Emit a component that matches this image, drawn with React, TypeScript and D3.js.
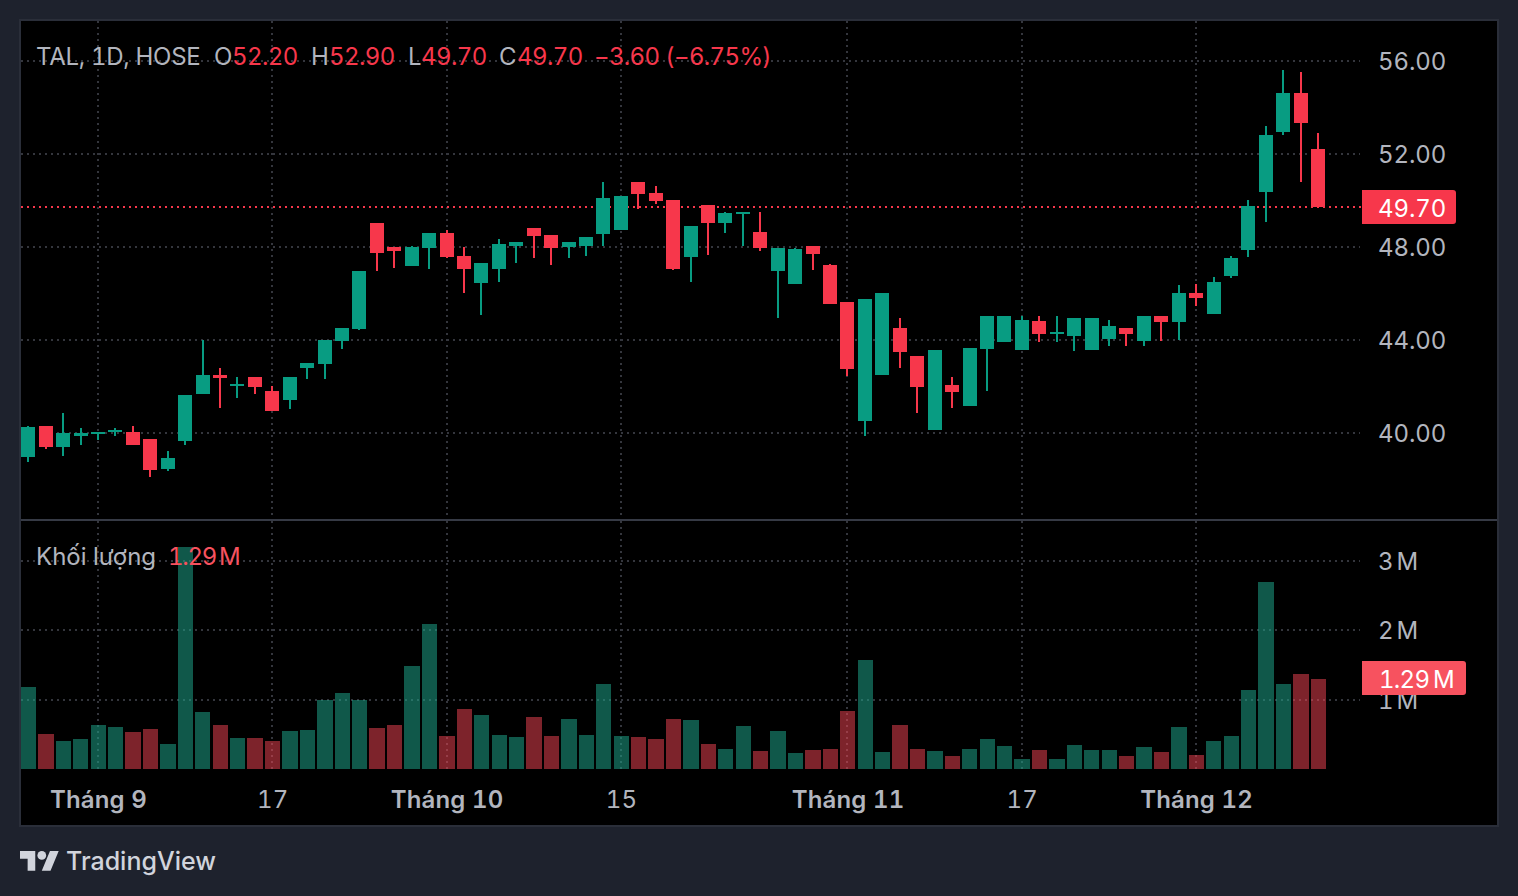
import React, { useEffect, useRef } from 'react';
import * as d3 from 'd3';

// OHLC + volume (millions)
const opens = [
  38.95, 40.3, 39.4, 39.85, 39.95, 40.05, 40.05, 39.75, 38.45, 39.65,
  41.65, 42.5, 42.0, 42.4, 41.8, 41.4, 42.8, 42.95, 43.95, 44.45,
  49.0, 48.0, 47.15, 47.95, 48.6, 47.6, 46.45, 47.05, 48.05, 48.8,
  48.5, 48.0, 48.05, 48.55, 48.7, 50.8, 50.3, 50.0, 47.55, 49.8,
  49.0, 49.4, 48.65, 46.95, 46.4, 48.05, 47.2, 45.6, 40.5, 42.5,
  44.5, 43.3, 40.1, 42.05, 41.15, 43.6, 43.9, 43.55, 44.8, 44.25,
  44.15, 43.55, 44.05, 44.5, 43.95, 45.0, 44.75, 46.0, 45.1, 46.75,
  47.85, 50.35, 52.95, 54.6, 52.2
];
const highs = [
  40.3, 40.3, 40.85, 40.2, 40.05, 40.2, 40.3, 39.75, 39.2, 41.6,
  44.0, 42.8, 42.4, 42.4, 42.0, 42.4, 43.0, 44.0, 44.5, 46.95,
  49.0, 48.0, 48.05, 48.6, 48.7, 48.0, 47.3, 48.35, 48.2, 48.8,
  48.5, 48.2, 48.4, 50.8, 50.2, 50.8, 50.6, 50.0, 48.9, 49.8,
  49.5, 49.5, 49.5, 47.95, 47.95, 48.05, 47.25, 45.6, 45.75, 46.0,
  44.95, 43.3, 43.55, 42.4, 43.65, 45.0, 45.0, 45.0, 45.0, 45.0,
  44.95, 44.95, 44.85, 44.5, 45.0, 45.0, 46.35, 46.4, 46.7, 47.6,
  50.0, 53.2, 55.6, 55.5, 52.9
];
const lows = [
  38.75, 39.3, 39.0, 39.45, 39.7, 39.85, 39.45, 38.1, 38.35, 39.45,
  41.65, 41.05, 41.5, 41.65, 40.95, 41.0, 42.3, 42.3, 43.6, 44.4,
  46.95, 47.1, 47.15, 47.05, 47.5, 46.0, 45.05, 46.5, 47.3, 47.5,
  47.2, 47.5, 47.6, 48.05, 48.7, 49.6, 49.85, 47.0, 46.5, 47.65,
  48.6, 48.05, 47.8, 44.95, 46.4, 47.0, 45.55, 42.45, 39.85, 42.5,
  42.8, 40.85, 40.1, 41.05, 41.15, 41.8, 43.9, 43.55, 43.9, 43.9,
  43.5, 43.55, 43.75, 43.75, 43.75, 43.95, 44.0, 45.45, 45.1, 46.65,
  47.55, 49.05, 52.8, 50.8, 49.7
];
const closes = [
  40.25, 39.4, 40.0, 40.0, 40.05, 40.1, 39.45, 38.4, 38.9, 41.6,
  42.5, 42.35, 42.1, 41.95, 40.95, 42.4, 43.0, 44.0, 44.5, 46.95,
  47.75, 47.8, 48.0, 48.6, 47.55, 47.05, 47.3, 48.1, 48.2, 48.45,
  47.95, 48.2, 48.4, 50.1, 50.2, 50.25, 49.95, 47.05, 48.9, 49.0,
  49.45, 49.5, 47.95, 47.95, 47.9, 47.7, 45.55, 42.75, 45.75, 46.0,
  43.45, 41.95, 43.55, 41.75, 43.65, 45.0, 45.0, 44.85, 44.25, 44.35,
  44.95, 44.95, 44.6, 44.25, 45.0, 44.75, 46.0, 45.8, 46.5, 47.5,
  49.75, 52.8, 54.6, 53.3, 49.7
];
const volumes = [
  1.175, 0.51, 0.41, 0.43, 0.64, 0.6, 0.53, 0.57, 0.355, 3.2,
  0.815, 0.63, 0.44, 0.44, 0.41, 0.54, 0.555, 0.99, 1.09, 0.99,
  0.585, 0.63, 1.48, 2.08, 0.47, 0.87, 0.77, 0.49, 0.46, 0.75,
  0.475, 0.72, 0.49, 1.22, 0.475, 0.46, 0.43, 0.72, 0.705, 0.36,
  0.29, 0.62, 0.26, 0.545, 0.23, 0.27, 0.29, 0.835, 1.57, 0.245,
  0.63, 0.29, 0.26, 0.19, 0.29, 0.43, 0.33, 0.145, 0.27, 0.14,
  0.34, 0.27, 0.27, 0.18, 0.31, 0.24, 0.6, 0.2, 0.4, 0.47,
  1.13, 2.69, 1.23, 1.36, 1.29
];

const priceTicks = [40, 44, 48, 52, 56];
const volumeTicks = [1, 2, 3];
const timeTickIndex = [4, 14, 24, 34, 47, 57, 67];
const timeTickLabels = ['Tháng 9', '17', 'Tháng 10', '15', 'Tháng 11', '17', 'Tháng 12'];

const GREEN = '#089c82';
const RED = '#f7374b';
const TEXT = '#b2b5be';
const GRID = '#34363d';
const FONT = 'Inter, Roboto, sans-serif';

const App = () => {
  const svgRef = useRef<SVGSVGElement | null>(null);

  useEffect(() => {
    const svg = d3.select(svgRef.current);
    svg.selectAll('*').remove();

    const x = d3.scaleLinear().domain([0, 74]).range([28.3, 1318.1]);
    const y = d3.scaleLinear().domain([40, 56]).range([432.7, 60.7]);
    const v = d3.scaleLinear().domain([0, 3]).range([769, 560.5]);

    // background + panel
    svg.append('rect').attr('width', 1518).attr('height', 896).attr('fill', '#1e222d');
    svg.append('rect')
      .attr('x', 20).attr('y', 20).attr('width', 1478).attr('height', 806)
      .attr('fill', '#000').attr('stroke', '#2a2e39').attr('stroke-width', 2);

    // gridlines
    const grid = svg.append('g')
      .attr('stroke', GRID).attr('stroke-width', 2).attr('stroke-dasharray', '2 4');
    timeTickIndex.forEach(i => {
      const px = Math.round(x(i));
      grid.append('line').attr('x1', px).attr('x2', px).attr('y1', 21).attr('y2', 519);
      grid.append('line').attr('x1', px).attr('x2', px).attr('y1', 521).attr('y2', 769);
    });
    priceTicks.forEach(t => {
      grid.append('line').attr('x1', 21).attr('x2', 1360).attr('y1', Math.round(y(t))).attr('y2', Math.round(y(t)));
    });
    volumeTicks.forEach(t => {
      grid.append('line').attr('x1', 21).attr('x2', 1360).attr('y1', Math.round(v(t))).attr('y2', Math.round(v(t)));
    });

    // pane separator
    svg.append('line')
      .attr('x1', 21).attr('x2', 1497).attr('y1', 520).attr('y2', 520)
      .attr('stroke', '#363a45').attr('stroke-width', 2);

    // volume bars
    volumes.forEach((vol, i) => {
      const left = Math.max(21, Math.round(x(i) - 7.4));
      const right = Math.round(x(i) + 7.9);
      const top = Math.round(v(vol));
      svg.append('rect')
        .attr('x', left).attr('y', top)
        .attr('width', right - left).attr('height', 769 - top)
        .attr('fill', closes[i] >= opens[i] ? '#1fa68c' : '#fa4655')
        .attr('fill-opacity', closes[i] >= opens[i] ? 0.53 : 0.5);
    });

    // last price line
    svg.append('line')
      .attr('x1', 21).attr('x2', 1362)
      .attr('y1', Math.round(y(closes[74]))).attr('y2', Math.round(y(closes[74])))
      .attr('stroke', RED).attr('stroke-width', 2).attr('stroke-dasharray', '2 4');

    // candles
    opens.forEach((o, i) => {
      const c = closes[i];
      const color = c >= o ? GREEN : RED;
      const left = Math.round(x(i) - 7);
      const top = Math.round(y(Math.max(o, c)));
      const bottom = Math.round(y(Math.min(o, c)));
      svg.append('rect')
        .attr('x', left + 6).attr('y', Math.round(y(highs[i])))
        .attr('width', 2).attr('height', Math.round(y(lows[i])) - Math.round(y(highs[i])))
        .attr('fill', color);
      svg.append('rect')
        .attr('x', left).attr('y', top)
        .attr('width', 14).attr('height', Math.max(2, bottom - top))
        .attr('fill', color);
    });

    // price axis
    const priceAxis = svg.append('g')
      .attr('transform', 'translate(1378,1.6)')
      .call(d3.axisRight(y).tickValues(priceTicks).tickSize(0).tickPadding(0).tickFormat(d3.format('.2f') as any));
    const volumeAxis = svg.append('g')
      .attr('transform', 'translate(1378,1)')
      .call(d3.axisRight(v).tickValues(volumeTicks).tickSize(0).tickPadding(0).tickFormat(d => `${d}\u2009M`));
    const timeAxis = svg.append('g')
      .attr('transform', 'translate(0,791)')
      .call(d3.axisBottom(x).tickValues(timeTickIndex).tickSize(0).tickPadding(0)
        .tickFormat((_, i) => timeTickLabels[i]));

    [priceAxis, volumeAxis, timeAxis].forEach(axis => {
      axis.select('.domain').remove();
      axis.selectAll('text')
        .attr('fill', TEXT)
        .style('font-family', FONT)
        .style('font-variant-numeric', 'tabular-nums')
        .style('font-size', '24px');
    });
    priceAxis.selectAll('text').style('letter-spacing', '-0.1px');
    volumeAxis.selectAll('text').style('letter-spacing', '-0.7px');
    timeAxis.selectAll('text')
      .style('letter-spacing', '0.15px')
      .style('font-weight', (_, i) => (timeTickLabels[i].startsWith('Tháng') ? 600 : 400));

    // last value labels
    svg.append('path')
      .attr('d', 'M1362 190H1453a3 3 0 0 1 3 3V221a3 3 0 0 1 -3 3H1362Z')
      .attr('fill', RED);
    svg.append('path')
      .attr('d', 'M1362 661H1463a3 3 0 0 1 3 3V692a3 3 0 0 1 -3 3H1362Z')
      .attr('fill', '#f7525f');

    const label = (txt: string, px: number, py: number, fill: string, spacing = 0, size = 24, weight = 400) =>
      svg.append('text')
        .attr('x', px).attr('y', py)
        .attr('fill', fill)
        .style('font-family', FONT)
        .style('font-variant-numeric', 'tabular-nums')
        .style('font-size', `${size}px`)
        .style('font-weight', weight)
        .style('letter-spacing', `${spacing}px`)
        .text(txt);

    const f = d3.format('.2f');
    label(f(closes[74]), 1378, 217, '#fff', -0.1);
    label(`${volumes[74].toFixed(2)}\u2009M`, 1379, 688, '#fff', -0.7);

    // legend
    const change = closes[74] - closes[73];
    const pct = (change / closes[73]) * 100;
    label('TAL, 1D, HOSE', 36, 65, TEXT, -0.3);
    label('O', 214, 65, TEXT);
    label(f(opens[74]), 232, 65, RED, -0.6);
    label('H', 311, 65, TEXT);
    label(f(highs[74]), 329, 65, RED, -0.6);
    label('L', 408, 65, TEXT);
    label(f(lows[74]), 421, 65, RED, -0.6);
    label('C', 499, 65, TEXT);
    label(f(closes[74]), 517, 65, RED, -0.6);
    label(`\u2212${f(-change)} (\u2212${f(-pct)}%)`, 594, 65, RED, -0.65);

    label('Khối lượng', 36, 565, TEXT);
    label(`${volumes[74].toFixed(2)}\u2009M`, 168, 565, '#f7525f', -1.3);

    // footer logo
    const logo = svg.append('g')
      .attr('transform', 'translate(20,846.7) scale(1.09)')
      .attr('fill', '#d1d4dc');
    logo.append('path').attr('d', 'M14 22H7V11H0V4h14v18zM28 22h-8l7.5-18h8L28 22z');
    logo.append('circle').attr('cx', 20).attr('cy', 8).attr('r', 4);
    label('TradingView', 66, 870, '#d1d4dc', 0, 25, 500);
  }, []);

  return (
    <svg
      ref={svgRef}
      width={1518}
      height={896}
      style={{ position: 'absolute', left: 0, top: 0, display: 'block' }}
    />
  );
};

export default App;
